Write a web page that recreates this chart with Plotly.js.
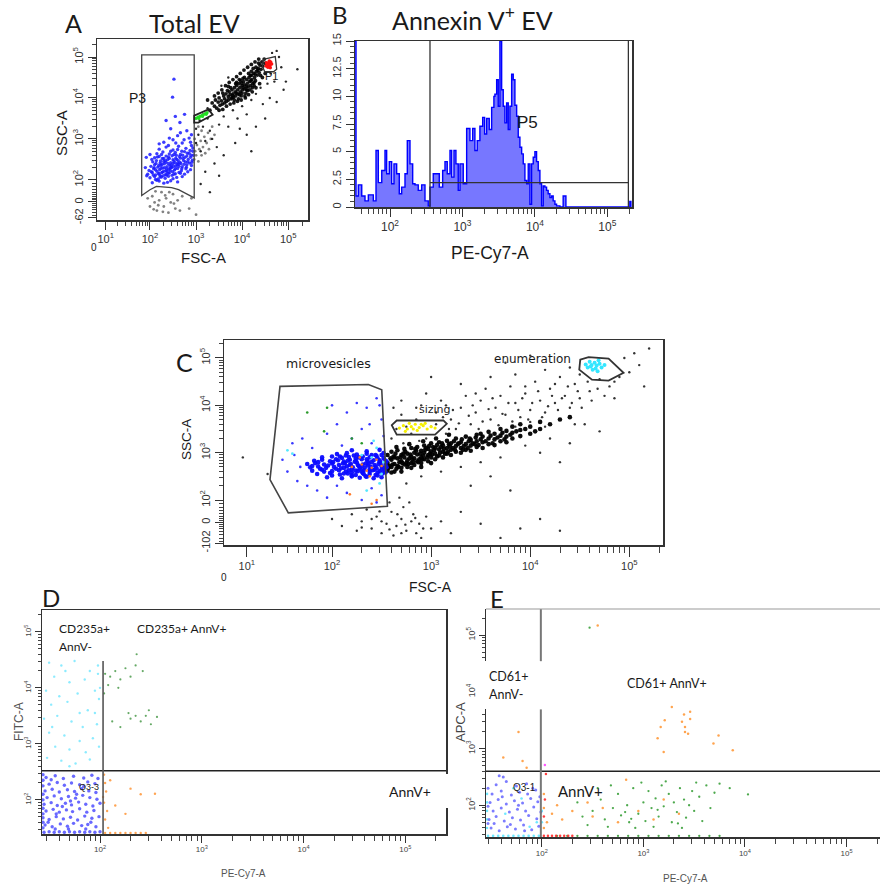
<!DOCTYPE html>
<html><head><meta charset="utf-8">
<script src="https://cdn.plot.ly/plotly-3.0.1.min.js"></script>
<style>html,body{margin:0;padding:0;background:#fff}#chart{width:880px;height:888px}</style>
</head><body><div id="chart"></div>
<script>
// ===== Panel A : Total EV (FSC-A vs SSC-A, display decades) =====
const aBlueP3 = [
[2.05,1.93],[2.2,1.97],[2.3,1.92],[2.45,1.98],[2.6,1.95],[2.15,1.99],[2.38,1.94],
[2.0,2.05],[2.1,2.08],[2.18,2.02],[2.25,2.07],[2.33,2.04],[2.4,2.09],[2.5,2.03],[2.58,2.06],[2.7,2.08],[2.12,2.01],[2.29,2.1],
[1.95,2.14],[2.05,2.18],[2.12,2.12],[2.2,2.16],[2.27,2.19],[2.34,2.13],[2.42,2.17],[2.48,2.11],[2.55,2.15],[2.63,2.18],[2.75,2.14],[2.22,2.11],[2.37,2.2],
[1.98,2.23],[2.08,2.27],[2.15,2.21],[2.21,2.25],[2.28,2.29],[2.35,2.22],[2.41,2.26],[2.47,2.3],[2.53,2.24],[2.6,2.28],[2.68,2.22],[2.78,2.27],[2.88,2.25],[2.3,2.21],[2.44,2.29],
[2.02,2.33],[2.1,2.37],[2.17,2.31],[2.24,2.35],[2.31,2.39],[2.37,2.32],[2.43,2.36],[2.5,2.4],[2.56,2.34],[2.62,2.38],[2.7,2.32],[2.8,2.37],[2.9,2.35],[2.26,2.38],[2.46,2.31],
[2.06,2.44],[2.14,2.47],[2.22,2.41],[2.3,2.45],[2.38,2.49],[2.45,2.42],[2.52,2.46],[2.58,2.5],[2.65,2.43],[2.73,2.47],[2.82,2.44],[2.92,2.48],[2.34,2.43],[2.6,2.41],
[2.1,2.54],[2.2,2.57],[2.3,2.52],[2.4,2.56],[2.48,2.59],[2.56,2.53],[2.64,2.57],[2.72,2.52],[2.8,2.58],[2.88,2.55],[2.94,2.6],
[2.15,2.64],[2.28,2.68],[2.42,2.63],[2.55,2.67],[2.66,2.62],[2.75,2.69],[2.85,2.65],[2.93,2.7],
[2.2,2.75],[2.35,2.8],[2.5,2.73],[2.62,2.82],[2.78,2.77],[2.9,2.84],
[2.3,2.92],[2.5,2.98],[2.7,2.9],[2.85,3.02],[2.6,3.08],
[2.45,3.25],[2.65,3.4],[2.8,3.2],[2.55,3.55],[2.75,3.6],[2.35,3.45],
[2.52,4.46],[2.49,4.02],[1.92,2.55],[1.9,2.3],[2.0,2.62],[1.93,2.1],
[2.03,2.2],[2.09,2.3],[2.13,2.4],[2.18,2.15],[2.19,2.35],[2.23,2.46],[2.24,2.28],[2.26,2.18],[2.27,2.52],[2.32,2.3],
[2.33,2.47],[2.36,2.26],[2.39,2.4],[2.4,2.16],[2.42,2.52],[2.44,2.23],[2.46,2.36],[2.49,2.2],[2.5,2.49],[2.51,2.33],
[2.54,2.42],[2.55,2.27],[2.57,2.6],[2.59,2.37],[2.61,2.47],[2.63,2.33],[2.66,2.53],[2.67,2.4],[2.69,2.27],[2.71,2.6],
[2.74,2.38],[2.76,2.55],[2.77,2.44],[2.79,2.31],[2.81,2.65],[2.83,2.5],[2.86,2.41],[2.87,2.72],[2.89,2.6],[2.91,2.43],
[2.93,2.78],[2.16,2.56],[2.25,2.62],[2.35,2.58],[2.45,2.7],[2.52,2.62],[2.6,2.74],[2.69,2.7],[2.12,2.25],[2.07,2.12],
[2.22,2.07],[2.36,2.12],[2.52,2.14],[2.66,2.16],[2.82,2.2],[2.4,2.84],[2.56,2.9],[2.74,2.98],[2.88,2.92],[2.66,3.15],
[2.9,3.1],[2.42,3.02],[2.2,2.88],[2.04,2.5]
];
const aBlackMain = [
[3.35,3.88],[3.4,3.8],[3.42,3.95],[3.48,3.9],[3.5,4.0],[3.55,3.93],[3.57,3.85],[3.6,4.05],[3.62,3.98],[3.65,4.1],
[3.66,3.92],[3.7,4.03],[3.72,4.15],[3.74,4.08],[3.76,3.98],[3.78,4.2],[3.8,4.1],[3.81,4.02],[3.83,4.25],[3.85,4.15],
[3.86,4.05],[3.88,4.3],[3.9,4.2],[3.91,4.1],[3.93,4.35],[3.95,4.25],[3.96,4.15],[3.98,4.05],[4.0,4.3],[4.01,4.2],
[4.03,4.4],[4.05,4.32],[4.06,4.22],[4.08,4.12],[4.1,4.45],[4.11,4.35],[4.13,4.27],[4.15,4.5],[4.16,4.4],[4.18,4.3],
[4.2,4.55],[4.21,4.45],[4.23,4.35],[4.25,4.6],[4.27,4.5],[4.29,4.42],[4.31,4.65],[4.33,4.56],[4.35,4.72],[4.37,4.62],
[4.39,4.8],[4.41,4.7],[4.43,4.88],[4.45,4.78],[4.3,4.75],[4.2,4.65],[4.05,4.5],[3.97,4.42],[3.88,4.38],[4.12,4.18],
[4.22,4.25],[3.92,3.98],[3.75,4.25],[3.68,4.18],[3.58,4.12],[3.52,3.82],[3.45,3.75],[4.0,4.12],[4.07,4.0],[4.17,4.2],
[4.26,4.38],[3.83,3.95],[3.94,4.45],[4.14,4.6],[4.24,4.72],[4.36,4.85],[4.48,4.95],[4.5,4.85],[3.99,4.36],[4.09,4.28],
[3.87,4.12],[4.19,4.42],[3.79,4.06],[4.28,4.58],[3.7,3.95],[4.02,4.25],
[3.5,3.7],[3.58,3.72],[3.66,3.8],[3.74,3.85],[3.82,3.88],[3.9,3.92],[3.98,3.95],[4.06,4.05],[4.14,4.08],[4.22,4.15],
[4.3,4.25],[4.38,4.35],[4.44,4.5],[4.5,4.6],[3.4,4.05],[3.48,4.12],[3.56,4.2],[3.64,4.3],[3.72,4.38],[3.8,4.45],
[3.88,4.52],[3.96,4.6],[4.04,4.68],[4.12,4.75],[4.2,4.82],[4.28,4.88],[4.36,4.95],[3.62,3.88],[3.78,4.0],[3.94,4.08],
[4.1,4.2],[4.26,4.3],[4.4,4.55],[3.7,4.28],[3.86,4.35],[4.02,4.48],[4.18,4.55],[4.34,4.68],[3.3,3.7],[3.25,3.95]
];
const aBlackSparse = [
[3.0,2.9],[3.05,3.1],[3.1,2.7],[3.15,3.3],[3.2,2.95],[3.0,3.25],[3.08,3.45],[3.25,3.5],[3.3,3.2],[3.35,3.0],
[3.45,2.8],[3.5,3.35],[3.6,3.55],[3.7,3.3],[3.8,3.7],[3.9,3.5],[4.0,3.8],[4.1,3.6],[4.2,3.95],[4.3,4.1],
[4.4,4.25],[4.55,4.35],[4.6,4.0],[4.7,4.4],[4.75,3.9],[4.85,4.75],[4.9,4.2],[4.95,4.4],[5.2,4.7],[4.5,3.5],
[4.3,3.3],[4.1,3.1],[3.85,2.9],[3.6,2.6],[3.4,2.4],[3.2,2.2],[3.1,1.9],[3.3,1.7],[3.5,2.1],[4.2,2.7],
[4.45,3.85],[3.95,3.25],[4.65,5.1],[4.75,5.15],[3.7,4.5],[3.55,4.3],[3.25,3.75],[3.15,3.6],[4.8,5.0],[4.62,4.6]
];
const aGrayNear = [
[2.96,2.5],[2.98,2.7],[3.0,2.6],[3.02,2.85],[3.05,2.45],[3.07,2.75],[3.1,2.95],[3.12,2.6],[3.15,2.8],[3.18,3.05],
[3.2,2.65],[3.23,2.9],[3.26,3.15],[3.28,2.75],[3.32,3.0],[3.35,3.3],[3.4,3.1],[3.12,3.2],[2.97,3.0],[3.05,3.3],
[1.95,1.55],[2.0,1.35],[2.05,1.6],[2.1,1.45],[2.15,1.25],[2.2,1.5],[2.25,1.7],[2.3,1.35],[2.35,1.55],[2.4,1.2],
[2.45,1.45],[2.5,1.65],[2.55,1.3],[2.6,1.5],[2.65,1.25],[2.12,1.72],[2.28,1.22],[2.42,1.7],[2.18,1.38],[2.52,1.42],
[2.7,1.6],[2.85,1.3],[2.9,1.55],[3.0,1.15],[2.08,1.28],[2.33,1.62]
];
const aGreen = [[3.0,3.5],[3.04,3.53],[3.08,3.55],[3.12,3.57],[3.16,3.59],[3.2,3.62],[3.24,3.64],[3.06,3.5],[3.14,3.55],[3.22,3.6]];
const aRed = [[4.52,4.78],[4.55,4.82],[4.58,4.85],[4.6,4.8],[4.62,4.88],[4.56,4.75],[4.64,4.83],[4.59,4.9],[4.53,4.86],[4.61,4.74]];
const aGateP3 = [[1.82,5.05],[2.96,5.05],[2.96,1.56],[2.62,1.76],[2.47,1.81],[2.14,1.84],[2.0,1.76],[1.82,1.62]];
const aGateGreen = [[2.96,3.40],[2.96,3.57],[3.27,3.72],[3.36,3.59],[3.05,3.40]];
const aGateP1 = [[4.46,4.94],[4.72,5.01],[4.75,4.70],[4.68,4.64],[4.49,4.64],[4.44,4.78]];
const aXTicks = [1.04,2,3,4,5];
const aXTickText = ['10<sup>1</sup>','10<sup>2</sup>','10<sup>3</sup>','10<sup>4</sup>','10<sup>5</sup>'];
const aYTicks = [1.07,1.46,2,3,4,5];
const aYTickText = ['-62','0','10<sup>2</sup>','10<sup>3</sup>','10<sup>4</sup>','10<sup>5</sup>'];

// ===== Panel B : Annexin V+ EV histogram (PE-Cy7-A decades vs count) =====
const bEdges = [1.517,1.531,1.563,1.610,1.655,1.701,1.770,1.807,1.839,1.886,1.931,1.954,1.990,2.023,2.055,2.092,2.128,2.161,2.207,2.239,2.276,2.313,2.345,2.390,2.437,2.483,2.528,2.552,2.597,2.680,2.727,2.759,2.790,2.828,2.851,2.883,2.910,2.942,2.966,3.011,3.058,3.103,3.141,3.172,3.204,3.241,3.279,3.306,3.334,3.370,3.403,3.434,3.448,3.472,3.494,3.517,3.541,3.563,3.586,3.610,3.632,3.655,3.679,3.701,3.724,3.748,3.770,3.793,3.817,3.839,3.862,3.886,3.908,3.931,3.954,3.977,4.000,4.023,4.046,4.069,4.092,4.115,4.138,4.161,4.183,4.207,4.230,4.252,4.276,4.299,4.345,4.390,4.428,5.310,5.325];
const bCounts = [15,1.0,2.0,1.0,0.55,1.1,0.55,5.1,2.2,3.3,5.1,3.0,4.1,2.1,3.9,3.0,1.2,1.8,3.0,6.0,3.9,2.1,2.0,1.5,2.0,0.55,0.1,1.8,3.0,1.8,3.3,4.1,3.0,5.1,2.7,5.1,3.9,1.5,3.9,2.1,7.1,6.0,7.1,5.1,6.0,7.3,8.1,6.6,8.0,7.0,9.0,10.0,10.2,11.5,9.1,15.0,10.6,9.1,7.6,9.4,7.0,9.1,12.0,11.5,9.2,8.2,6.3,5.4,4.8,3.9,2.4,2.1,3.9,0.25,3.9,4.5,5.0,4.1,3.3,2.1,0.1,1.9,1.8,1.5,1.2,0.85,1.0,0.55,0.25,0.1,0,1.0,0,0.5,0];
const bGateLeft = 2.552, bGateRight = 5.29, bGateLevel = 2.2;
const bXTicks = [2,3,4,5];
const bYTicks = [0,2.5,5,7.5,10,12.5,15];

// ===== Panel C : FSC-A vs SSC-A gates =====
const cBlueCore = [
[1.95,2.48],[2.1,2.46],[2.2,2.5],[2.28,2.47],[2.35,2.49],[2.42,2.46],[2.5,2.48],
[1.85,2.55],[1.98,2.57],[2.08,2.54],[2.16,2.56],[2.24,2.53],[2.31,2.57],[2.38,2.55],[2.44,2.53],[2.51,2.56],[2.2,2.58],
[1.8,2.62],[1.9,2.64],[2.0,2.61],[2.07,2.63],[2.14,2.6],[2.2,2.64],[2.26,2.61],[2.32,2.63],[2.38,2.6],[2.43,2.64],[2.48,2.61],[2.53,2.63],
[1.78,2.69],[1.86,2.71],[1.94,2.68],[2.02,2.7],[2.09,2.67],[2.15,2.71],[2.21,2.69],[2.27,2.72],[2.33,2.68],[2.39,2.7],[2.45,2.67],[2.5,2.71],[2.55,2.69],
[1.75,2.76],[1.83,2.78],[1.92,2.75],[2.0,2.77],[2.07,2.74],[2.13,2.78],[2.19,2.76],[2.25,2.79],[2.31,2.75],[2.37,2.77],[2.43,2.74],[2.49,2.78],[2.54,2.76],
[1.82,2.83],[1.9,2.85],[1.98,2.82],[2.06,2.84],[2.12,2.81],[2.18,2.85],[2.24,2.83],[2.3,2.86],[2.36,2.82],[2.42,2.84],[2.48,2.81],[2.53,2.85],
[1.9,2.9],[2.0,2.92],[2.1,2.89],[2.17,2.91],[2.24,2.88],[2.31,2.92],[2.38,2.9],[2.45,2.93],[2.52,2.89],
[2.05,2.97],[2.15,2.99],[2.25,2.96],[2.35,2.98],[2.44,2.95],[2.52,2.99],
[2.2,3.05],[2.35,3.03],[2.48,3.06],
[2.28,2.66],[2.36,2.73],[2.46,2.58],[2.4,2.8],[2.18,2.74],[2.5,2.64],[2.32,2.55],[2.46,2.88],[2.12,2.68],[2.24,2.62],
[1.88,2.66],[1.96,2.73],[2.04,2.66],[2.11,2.77],[2.17,2.63],[2.23,2.81],[2.29,2.69],[2.34,2.77],[2.41,2.63],[2.47,2.76],
[2.52,2.68],[2.04,2.86],[2.14,2.94],[2.27,2.9],[2.4,2.95],[2.5,2.95],[2.2,2.52],[2.34,2.5],[2.46,2.52],[2.54,2.58],
[1.92,2.6],[1.8,2.72],[2.01,2.8],[2.16,2.83],[2.35,2.86],[2.55,2.82],[2.44,2.7],[2.3,2.6],[2.26,2.74],[2.38,2.65],
[2.48,2.84],[2.12,2.56],[2.0,2.52],[1.86,2.8],[2.08,2.92],[2.22,2.94]
];
const cBlueSparse = [
[1.5,2.85],[1.55,2.6],[1.62,2.95],[1.68,2.7],[1.7,3.3],[1.65,2.4],[1.75,2.3],[1.85,2.2],[1.95,2.05],[2.05,2.3],
[2.15,2.15],[2.3,2.0],[2.4,2.25],[2.5,2.1],[2.45,1.95],[2.2,3.3],[2.3,3.5],[2.4,3.2],[2.05,3.6],[2.15,3.85],
[2.35,3.95],[2.5,3.7],[2.45,4.15],[2.25,4.05],[1.95,3.4],[1.8,3.1],[2.52,3.35],[2.0,4.0],[2.38,3.6],[2.1,3.15],
[2.48,4.0],[1.6,3.2]
];
const cCyan = [[2.4,2.9],[2.45,3.1],[2.5,2.55],[2.3,2.95],[2.48,2.35],[2.35,2.2],[1.55,3.05],[1.6,2.98],[2.52,2.8],[2.42,3.25]];
const cOrange = [[2.3,2.75],[2.4,2.68],[2.45,2.85],[2.35,2.62],[2.5,2.72],[2.2,2.7],[2.38,2.5],[2.45,2.0],[2.4,1.92],[2.28,2.9],[2.18,2.12]];
const cGreen = [[1.75,3.85],[1.95,3.95],[2.2,3.3],[1.92,3.45],[2.3,3.2]];
const cBlackBand = [
[2.56,2.62],[2.56,2.78],[2.56,2.95],[2.6,2.7],[2.6,2.85],[2.6,3.02],[2.63,2.6],[2.63,2.76],[2.63,2.9],
[2.66,2.72],[2.66,2.88],[2.66,3.05],[2.7,2.68],[2.7,2.82],[2.7,2.95],[2.73,2.75],[2.73,2.9],[2.73,3.08],
[2.76,2.7],[2.76,2.84],[2.76,2.98],[2.8,2.78],[2.8,2.92],[2.8,3.1],[2.83,2.74],[2.83,2.88],[2.83,3.0],
[2.86,2.82],[2.86,2.96],[2.86,3.12],[2.9,2.78],[2.9,2.9],[2.9,3.04],[2.93,2.86],[2.93,3.0],[2.93,3.15],
[2.97,2.82],[2.97,2.95],[2.97,3.08],[3.0,2.9],[3.0,3.03],[3.0,3.2],[3.04,2.86],[3.04,2.98],[3.04,3.1],
[3.08,2.94],[3.08,3.07],[3.08,3.22],[3.12,2.9],[3.12,3.02],[3.12,3.15],[3.16,2.98],[3.16,3.1],[3.16,3.25],
[3.2,2.95],[3.2,3.06],[3.2,3.2],[3.25,3.02],[3.25,3.14],[3.25,3.3],[3.3,3.0],[3.3,3.1],[3.3,3.22],
[3.35,3.06],[3.35,3.18],[3.35,3.34],[3.4,3.04],[3.4,3.15],[3.4,3.27],[3.46,3.12],[3.46,3.24],[3.46,3.38],
[3.52,3.1],[3.52,3.22],[3.52,3.34],[3.58,3.18],[3.58,3.3],[3.58,3.44],[3.64,3.16],[3.64,3.28],[3.64,3.4],
[3.7,3.24],[3.7,3.36],[3.7,3.5],[3.76,3.22],[3.76,3.34],[3.76,3.46],[3.82,3.3],[3.82,3.42],[3.82,3.55],
[3.9,3.35],[3.9,3.48],[3.9,3.6],[4.0,3.4],[4.0,3.55],[4.1,3.5],[4.1,3.65],
[2.58,2.72],[2.62,2.92],[2.65,2.66],[2.68,2.8],[2.72,2.98],[2.75,2.78],[2.78,2.88],[2.82,2.8],[2.85,3.04],[2.88,2.86],
[2.92,2.94],[2.95,3.1],[2.99,2.98],[3.02,3.12],[3.06,2.92],[3.1,3.12],[3.14,2.98],[3.18,3.18],[3.22,3.1],[3.28,3.2],
[3.32,3.06],[3.38,3.24],[3.44,3.18],[3.5,3.28],
[2.57,2.68],[2.59,2.88],[2.61,2.75],[2.64,2.98],[2.67,2.7],[2.69,2.9],[2.71,2.78],[2.74,3.02],[2.77,2.76],[2.79,2.96],
[2.81,2.86],[2.84,3.08],[2.87,2.8],[2.89,2.98],[2.91,2.86],[2.94,3.06],[2.96,2.9],[2.98,3.14],[3.01,2.96],[3.03,3.05],
[3.06,3.16],[3.09,3.0],[3.11,3.2],[3.13,3.08],[3.17,3.02],[3.19,3.14],[3.23,3.24],[3.24,3.06],[3.27,3.18],[3.31,3.28],
[3.33,3.14],[3.37,3.1],[3.39,3.3],[3.42,3.2],[3.45,3.32],[3.48,3.16],[3.5,3.4],[3.55,3.24],[3.6,3.36],[3.62,3.2],
[3.67,3.32],[3.72,3.42],[3.74,3.28],[3.8,3.38],[3.86,3.45],[3.95,3.5],[4.05,3.45],[4.2,3.6],[4.3,3.7],[4.4,3.75],
[2.6,2.58],[2.7,2.6],[2.8,2.68],[2.9,2.7],[3.0,2.78],[2.65,3.12],[2.78,3.18],[2.92,3.24],[3.05,3.3],[3.18,3.38]
];
const cBlackSparse = [
[2.6,3.3],[2.65,3.5],[2.7,3.8],[2.72,3.2],[2.8,3.4],[2.85,3.7],[2.9,4.0],[2.95,3.3],[3.0,3.55],[3.05,3.85],
[3.1,4.1],[3.15,3.4],[3.2,3.7],[3.25,3.5],[3.3,3.95],[3.35,4.2],[3.4,3.6],[3.45,3.85],[3.5,4.1],[3.55,4.35],
[3.6,3.7],[3.65,3.95],[3.7,4.2],[3.75,3.8],[3.8,4.4],[3.85,4.05],[3.9,3.75],[3.95,4.25],[4.0,3.9],[4.05,4.5],
[4.1,4.1],[4.15,3.85],[4.2,4.35],[4.25,4.05],[4.3,4.6],[4.35,4.2],[4.4,3.95],[4.45,4.45],[4.5,4.15],[4.6,4.3],
[4.7,4.55],[4.8,4.4],[4.9,4.6],[5.0,4.7],[5.1,4.85],[5.15,4.4],[4.95,5.0],[5.05,5.1],[4.85,4.15],[4.55,3.6],
[4.2,3.3],[3.95,3.15],[3.7,2.9],[3.5,2.8],[3.3,2.7],[3.1,2.6],[2.9,2.5],[2.75,2.35],[3.6,2.5],[4.1,3.0],
[4.4,3.2],[4.7,3.45],[4.3,2.8],[3.4,2.3],[3.8,2.2],[4.0,5.05],[3.6,4.6],[3.3,4.45],[2.95,4.25],[2.7,4.1],
[4.65,4.9],[4.4,4.8],[3.75,4.9],[5.2,5.2],[2.62,3.95],[3.0,4.6],[3.85,4.65],[4.15,4.75],[1.1,2.9],[1.35,2.55],
[2.0,1.6],[2.1,1.45],[2.2,1.7],[2.25,1.35],[2.3,1.55],[2.35,1.8],[2.4,1.4],[2.45,1.65],[2.5,1.3],[2.55,1.5],
[2.6,1.75],[2.62,1.25],[2.65,1.45],[2.7,1.6],[2.72,1.85],[2.75,1.35],[2.8,1.55],[2.82,1.7],[2.85,1.3],[2.88,1.5],
[2.9,1.2],[2.95,1.65],[3.0,1.4],[3.1,1.55],[3.2,1.3],[2.58,1.95],[2.68,2.05],[2.78,1.95],[3.3,1.75],[3.5,1.5],
[3.9,1.4],[4.1,1.6],[4.3,1.35],[3.7,1.2],
[3.05,3.6],[3.12,3.75],[3.22,3.9],[3.28,3.62],[3.38,3.78],[3.42,4.0],[3.52,3.66],[3.58,3.92],[3.62,4.15],[3.68,3.58],
[3.72,3.82],[3.78,4.05],[3.82,3.66],[3.88,3.9],[3.92,4.15],[3.98,3.7],[4.02,4.05],[4.08,4.3],[4.12,3.75],[4.18,3.98],
[4.22,4.2],[4.28,3.9],[4.32,4.15],[4.38,4.4],[4.42,4.05],[4.48,4.3],[4.52,3.95],[4.58,4.5],[4.62,4.1],[4.68,4.35],
[4.75,4.2],[4.85,4.5],[4.5,4.65],[4.25,4.45],[3.95,4.4],[3.45,4.25],[3.15,4.0],[2.85,3.95],[2.75,3.55],[2.88,3.25],
[3.18,3.5],[3.48,3.5],[3.85,3.55],[4.15,3.55],[4.45,3.6],[4.0,3.65],
[2.3,1.42],[2.4,1.6],[2.5,1.55],[2.58,1.38],[2.66,1.7],[2.74,1.48],[2.84,1.62],[2.92,1.4],[2.48,1.76],[2.7,1.3]
];
const cYellow = [[2.68,3.52],[2.72,3.57],[2.76,3.5],[2.8,3.55],[2.84,3.6],[2.88,3.53],[2.92,3.57],[2.96,3.5],[3.0,3.55],[2.78,3.62],[2.86,3.47],[2.94,3.62],[2.74,3.45],[3.04,3.52],[2.82,3.5],[2.9,3.6]];
const cCyanEnum = [[4.58,4.8],[4.62,4.85],[4.66,4.78],[4.7,4.88],[4.6,4.92],[4.65,4.9],[4.72,4.8],[4.68,4.72],[4.56,4.86],[4.75,4.85],[4.63,4.75],[4.69,4.95],[4.61,4.82],[4.67,4.84]];
const cGateMicro = [[1.475,4.40],[2.367,4.44],[2.502,4.33],[2.559,1.87],[1.559,1.73],[1.374,2.43]];
const cGateSizing = [[2.603,3.58],[2.653,3.68],[3.124,3.68],[3.158,3.61],[3.040,3.38],[2.653,3.38]];
const cGateEnum = [[4.505,4.966],[4.589,5.017],[4.791,4.987],[4.942,4.685],[4.791,4.522],[4.623,4.543],[4.495,4.755]];
const cXTicks = [1.14,2,3,4,5];
const cYTicks = [1.09,1.53,2,3,4,5];
const cYTickText = ['-102','0','10<sup>2</sup>','10<sup>3</sup>','10<sup>4</sup>','10<sup>5</sup>'];

// ===== Panel D : PE-Cy7-A vs FITC-A =====
const dBlue = [
[1.45,1.42],[1.5,1.43],[1.55,1.42],[1.6,1.43],[1.65,1.42],[1.7,1.43],[1.75,1.42],[1.8,1.43],[1.85,1.42],[1.9,1.43],[1.95,1.42],[2.0,1.43],
[1.46,1.55],[1.53,1.52],[1.61,1.57],[1.68,1.53],[1.74,1.58],[1.82,1.54],[1.88,1.56],[1.96,1.52],
[1.44,1.68],[1.5,1.65],[1.57,1.7],[1.64,1.66],[1.71,1.69],[1.78,1.64],[1.85,1.71],[1.92,1.67],[1.99,1.7],
[1.47,1.8],[1.54,1.83],[1.6,1.78],[1.67,1.82],[1.73,1.79],[1.8,1.84],[1.87,1.78],[1.94,1.81],
[1.45,1.92],[1.52,1.95],[1.58,1.9],[1.66,1.94],[1.72,1.91],[1.79,1.96],[1.86,1.92],[1.93,1.89],[2.0,1.94],
[1.48,2.04],[1.55,2.07],[1.62,2.02],[1.69,2.06],[1.76,2.03],[1.83,2.08],[1.9,2.04],[1.97,2.01],
[1.46,2.16],[1.53,2.19],[1.6,2.14],[1.68,2.18],[1.75,2.15],[1.82,2.2],[1.89,2.16],[1.96,2.13],
[1.5,2.28],[1.58,2.31],[1.65,2.26],[1.72,2.3],[1.8,2.27],[1.88,2.32],[1.95,2.29],
[1.47,2.4],[1.56,2.43],[1.64,2.38],[1.74,2.42],[1.84,2.39],[1.92,2.44],
[1.44,1.5],[1.44,1.6],[1.44,1.75],[1.44,1.85],[1.44,2.0],[1.44,2.1],[1.44,2.25],[1.44,2.35],[1.44,2.45],
[1.49,1.6],[1.57,1.75],[1.63,1.88],[1.71,1.98],[1.77,2.1],[1.84,2.24],[1.91,1.6],[1.52,2.36],[1.98,2.38],[1.69,1.48],[1.86,1.48],[1.56,1.48]
];
const dCyan = [
[1.5,4.45],[1.62,4.4],[1.75,4.48],[1.9,4.3],[1.98,4.25],[1.55,4.2],[1.7,4.1],[1.85,4.15],[1.47,3.95],[1.6,3.85],
[1.78,3.9],[1.95,3.95],[1.52,3.7],[1.68,3.75],[1.88,3.6],[1.99,3.8],[1.45,3.45],[1.58,3.5],[1.72,3.4],[1.83,3.3],
[1.97,3.35],[1.5,3.2],[1.65,3.15],[1.8,3.05],[1.93,3.1],[1.56,2.95],[1.7,2.9],[1.86,2.85],[1.99,2.95],[1.48,2.75],
[1.62,2.7],[1.76,2.65],[1.9,2.72],[1.95,3.55],[2.0,4.0],[1.66,4.3],[1.8,3.55],[1.53,3.3],[1.98,4.4],[1.7,2.6]
];
const dGreen = [
[2.05,4.25],[2.1,4.2],[2.15,4.3],[2.2,4.15],[2.25,4.35],[2.3,4.2],[2.35,4.4],[2.42,4.3],[2.36,4.6],[2.08,4.05],
[2.18,4.0],[2.3,3.45],[2.35,3.5],[2.4,3.4],[2.45,3.5],[2.5,3.35],[2.56,3.48],[2.2,3.3],[2.28,3.55],[2.12,3.4],[2.04,3.9],[2.48,3.6]
];
const dOrange = [
[2.04,2.45],[2.05,2.3],[2.06,2.15],[2.04,1.95],[2.07,1.8],[2.05,1.65],[2.08,1.5],[2.1,2.35],[2.03,2.05],
[2.05,1.41],[2.1,1.41],[2.15,1.41],[2.2,1.41],[2.25,1.41],[2.3,1.41],[2.35,1.41],[2.4,1.41],[2.45,1.41],
[2.3,2.2],[2.54,2.11],[2.15,1.9],[2.25,1.75],[2.4,2.1]
];
const dGateY = 2.52, dGateX = 2.03, dGateXTop = 4.48;
const dXTicks = [2,3,4,5], dYTicks = [2,3,4,5];

// ===== Panel E : PE-Cy7-A vs APC-A =====
const eBlue = [
[1.5,1.6],[1.58,1.55],[1.66,1.62],[1.74,1.58],[1.82,1.65],[1.9,1.57],[1.97,1.63],
[1.48,1.75],[1.55,1.8],[1.63,1.72],[1.71,1.78],[1.79,1.74],[1.87,1.82],[1.95,1.76],
[1.52,1.9],[1.6,1.95],[1.68,1.88],[1.76,1.93],[1.84,1.9],[1.92,1.97],[1.99,1.88],
[1.49,2.05],[1.57,2.1],[1.65,2.02],[1.73,2.08],[1.81,2.04],[1.89,2.12],[1.96,2.06],
[1.51,2.2],[1.6,2.25],[1.7,2.18],[1.78,2.23],[1.86,2.2],[1.94,2.27],
[1.55,2.36],[1.65,2.42],[1.75,2.34],[1.85,2.38],[1.62,2.5],[1.58,2.52],
[1.47,1.68],[1.47,1.98],[1.47,2.3],[1.53,1.68],[1.69,1.66],[1.83,1.55],[1.61,2.15],[1.77,2.0],[1.91,2.3],[1.98,2.15]
];
const eCyan = [
[1.47,1.46],[1.52,1.46],[1.57,1.46],[1.62,1.46],[1.67,1.46],[1.72,1.46],[1.77,1.46],[1.82,1.46],[1.87,1.46],[1.92,1.46],[1.97,1.46],
[1.46,1.6],[1.46,1.75],[1.46,1.9],[1.46,2.05],[1.46,2.2],[1.64,1.85],[1.8,2.12],[1.95,1.7],[1.72,2.3],[1.88,1.62],[2.0,1.7],[2.0,1.9]
];
const eGreen = [
[2.5,1.9],[2.58,2.1],[2.62,1.75],[2.7,1.95],[2.75,2.2],[2.78,1.82],[2.82,1.88],[2.84,2.0],[2.86,1.7],[2.9,2.3],
[2.95,1.85],[3.0,2.05],[3.02,1.72],[3.05,2.25],[3.08,1.95],[3.12,2.12],[3.15,1.8],[3.18,2.35],[3.2,1.98],[3.25,2.2],
[3.28,1.7],[3.3,2.05],[3.33,1.88],[3.36,2.3],[3.4,2.1],[3.42,1.78],[3.45,2.0],[3.48,2.25],[3.5,1.9],[3.55,2.15],
[3.58,1.72],[3.62,2.35],[3.66,1.95],[3.7,2.22],[3.75,2.38],[3.85,2.3],[4.03,2.19],[2.4,1.8],[2.35,2.05],[2.45,1.65],
[2.65,1.62],[2.92,1.6],[3.1,1.62],[3.38,1.6],[2.55,2.3],[2.68,2.35],[3.22,2.42],[3.52,2.4],[2.98,2.4],[2.88,1.76],
[3.14,1.92],[3.34,1.68],[2.47,5.13],
[2.15,1.46],[2.25,1.46],[2.35,1.46],[2.45,1.46],[2.55,1.46],[2.65,1.46],[2.75,1.46],[2.85,1.46],[2.95,1.46],
[3.05,1.46],[3.15,1.46],[3.25,1.46],[3.35,1.46],[3.45,1.46],[3.55,1.46],[3.65,1.46],[3.75,1.46]
];
const eOrange = [
[3.28,3.73],[3.21,3.5],[3.17,3.38],[3.14,3.18],[3.2,2.94],[3.38,3.47],[3.41,3.38],[3.46,3.65],[3.46,3.52],[3.44,3.26],
[3.41,3.29],[3.74,3.23],[3.69,3.09],[3.88,2.97],[3.4,3.6],[2.55,5.17],[1.77,3.29],[1.62,2.84],[1.81,2.78],[1.85,2.66],
[2.05,1.7],[2.1,1.85],[2.2,1.75],[2.3,1.9],[2.5,1.8],[2.6,1.95],[2.75,1.7],[2.95,1.9],[3.1,1.75],[3.2,2.1],
[3.35,1.85],[2.83,2.45],[2.45,2.05],[2.15,2.0],[2.02,1.95],[2.02,2.2],[2.02,1.6]
];
const eRed = [[2.02,1.46],[2.06,1.46],[2.1,1.46],[2.14,1.46],[2.18,1.46],[2.22,1.46],[2.26,1.46],[2.3,1.46],[2.02,1.8],[2.04,2.55],[2.03,2.1]];
const eMagenta = [[2.03,2.71]];
const eGateY = 2.6, eGateX = 1.99, eGateGapLo = 3.69, eGateGapHi = 4.54;
const eXTicks = [2,3,4,5], eYTicks = [2,3,4,5];

// ===== helpers =====
const W = 880, H = 888;
const px = v => v / W, py = v => 1 - v / H;
const sup = d => '10<sup>' + d + '</sup>';
function logMinor(lo, hi) {
  const v = [];
  for (let d = Math.floor(lo); d <= Math.ceil(hi); d++)
    for (let k = 2; k <= 9; k++) { const t = d + Math.log10(k); if (t > lo && t < hi) v.push(t); }
  return v;
}
function pts(arr, xa, ya, color, size, opacity) {
  return {type: 'scatter', mode: 'markers', x: arr.map(p => p[0]), y: arr.map(p => p[1]),
    xaxis: xa, yaxis: ya, hoverinfo: 'skip', showlegend: false,
    marker: {color: color, size: size, opacity: opacity, line: {width: 0}}};
}
function path(arr) { return 'M ' + arr.map(p => p[0] + ' ' + p[1]).join(' L ') + ' Z'; }
function gate(arr, xr, yr, color, w) {
  return {type: 'path', xref: xr, yref: yr, path: path(arr), line: {color: color, width: w}, fillcolor: 'rgba(0,0,0,0)'};
}
function seg(x0, y0, x1, y1, xr, yr, color, w) {
  return {type: 'line', xref: xr, yref: yr, x0: x0, y0: y0, x1: x1, y1: y1, line: {color: color, width: w}};
}
const TF = 'Liberation Sans, Arial, sans-serif';
function axis(o) {
  return Object.assign({showgrid: false, zeroline: false, showline: true, linecolor: '#333', linewidth: 1.5,
    mirror: true, ticks: 'outside', ticklen: 8, tickwidth: 1, tickcolor: '#333', tickmode: 'array',
    fixedrange: true, tickfont: {family: TF, size: 11, color: '#333'}}, o);
}
function minor(vals, len) { return {ticks: 'outside', ticklen: len || 4, tickwidth: 1, tickcolor: '#444', tickmode: 'array', tickvals: vals}; }
function ann(text, x, y, size, fam, extra) {
  return Object.assign({text: text, xref: 'paper', yref: 'paper', x: px(x), y: py(y), xanchor: 'center', yanchor: 'middle',
    showarrow: false, font: {family: fam || TF, size: size, color: '#1a1a1a'}}, extra || {});
}
const biexA = [1.92,1.84,1.77,1.7,1.64,1.59,1.55,1.51,1.42,1.38,1.33,1.27,1.2,1.13];
const biexC = [1.92,1.85,1.78,1.71,1.66,1.61,1.57,1.49,1.45,1.4,1.34,1.27,1.19,1.12];
const cDec1 = [2,3,4,5,6,7,8,9].map(k => 1.14 + 0.86 * Math.log10(k));

// ===== traces =====
const data = [
  pts(aGrayNear, 'x', 'y', '#6b6b6b', 2.8, 0.85),
  pts(aBlackSparse, 'x', 'y', '#111', 2.4, 0.9),
  pts(aBlackMain, 'x', 'y', '#000', 3.8, 0.9),
  pts(aBlueP3, 'x', 'y', '#1a1aff', 3.4, 0.85),
  pts(aGreen, 'x', 'y', '#22dd22', 3.2, 1),
  pts(aRed, 'x', 'y', '#ff1010', 3.6, 1),
  {type: 'scatter', mode: 'lines', x: bEdges, y: bCounts, xaxis: 'x2', yaxis: 'y2', hoverinfo: 'skip', showlegend: false,
   line: {shape: 'hv', color: '#0000ff', width: 1.4}, fill: 'tozeroy', fillcolor: 'rgba(95,95,255,0.85)'},
  pts(cBlackSparse, 'x3', 'y3', '#111', 2.4, 0.85),
  pts(cBlackBand, 'x3', 'y3', '#000', 4.6, 0.95),
  pts(cBlueSparse, 'x3', 'y3', '#2222ff', 2.6, 0.9),
  pts(cBlueCore, 'x3', 'y3', '#0a0aff', 4.6, 0.95),
  pts(cCyan, 'x3', 'y3', '#55e8ff', 2.8, 1),
  pts(cOrange, 'x3', 'y3', '#ff7a2a', 2.6, 1),
  pts(cGreen, 'x3', 'y3', '#2a9a2a', 2.6, 1),
  pts(cYellow, 'x3', 'y3', '#f5ee00', 3.2, 1),
  pts(cCyanEnum, 'x3', 'y3', '#33e6ff', 4, 1),
  pts(dCyan, 'x4', 'y4', '#7fe9ff', 2.4, 0.9),
  pts(dBlue, 'x4', 'y4', '#2a2aff', 3.4, 0.7),
  pts(dGreen, 'x4', 'y4', '#4a9a4a', 2.2, 0.85),
  pts(dOrange, 'x4', 'y4', '#ff9a40', 2.4, 0.9),
  pts(eCyan, 'x5', 'y5', '#5fe6ff', 2.6, 0.9),
  pts(eBlue, 'x5', 'y5', '#3535ff', 3, 0.65),
  pts(eGreen, 'x5', 'y5', '#2e9a2e', 2.3, 0.85),
  pts(eOrange, 'x5', 'y5', '#ff9a3c', 2.5, 0.9),
  pts(eRed, 'x5', 'y5', '#ff2a2a', 2.5, 0.9),
  pts(eMagenta, 'x5', 'y5', '#ff44ff', 2.5, 0.9)
];

// ===== layout =====
const layout = {
  width: W, height: H, margin: {l: 0, r: 0, t: 0, b: 0}, paper_bgcolor: '#fff', plot_bgcolor: '#fff', showlegend: false,
  xaxis: axis({domain: [px(97), px(308)], range: [0.85, 5.43], anchor: 'y', tickvals: aXTicks, ticktext: aXTickText,
    minor: minor(logMinor(1.04, 5.43))}),
  yaxis: axis({domain: [py(220), py(39)], range: [1.02, 5.44], anchor: 'x', tickvals: aYTicks, ticktext: aYTickText,
    tickangle: -90, minor: minor(logMinor(2, 5.44).concat(biexA))}),
  xaxis2: axis({domain: [px(355), px(632)], range: [1.517, 5.34], anchor: 'y2', tickvals: bXTicks, ticktext: bXTicks.map(sup),
    tickfont: {family: TF, size: 12, color: '#333'}, minor: minor(logMinor(1.517, 5.34), 5)}),
  yaxis2: axis({domain: [py(207), py(41)], range: [0, 15], anchor: 'x2', tickvals: bYTicks, ticktext: bYTicks.map(String),
    tickangle: -90, tickfont: {family: TF, size: 11, color: '#333'}, minor: minor([0.5,1,1.5,2,3,3.5,4,4.5,5.5,6,6.5,7,8,8.5,9,9.5,10.5,11,11.5,12,13,13.5,14,14.5])}),
  xaxis3: axis({domain: [px(224), px(663)], range: [0.91, 5.34], anchor: 'y3', tickvals: cXTicks, ticktext: [1,2,3,4,5].map(sup),
    ticklen: 10, minor: minor(cDec1.concat(logMinor(2, 5.34)), 6)}),
  yaxis3: axis({domain: [py(545), py(340)], range: [1.05, 5.38], anchor: 'x3', tickvals: cYTicks, ticktext: cYTickText,
    tickangle: -90, minor: minor(logMinor(2, 5.38).concat(biexC))}),
  xaxis4: axis({domain: [px(42), px(446)], range: [1.43, 5.40], anchor: 'y4', tickvals: dXTicks, ticktext: dXTicks.map(sup),
    ticklen: 7, tickfont: {family: TF, size: 8, color: '#444'}, minor: minor(logMinor(1.43, 5.40), 5)}),
  yaxis4: axis({domain: [py(834), py(610)], range: [1.39, 5.39], anchor: 'x4', tickvals: dYTicks, ticktext: dYTicks.map(sup),
    tickangle: -90, ticklen: 6, tickfont: {family: TF, size: 8, color: '#444'}, minor: minor(logMinor(1.39, 5.39), 3)}),
  xaxis5: axis({domain: [px(486), 1], range: [1.45, 5.33], anchor: 'y5', tickvals: eXTicks, ticktext: eXTicks.map(sup), mirror: false,
    ticklen: 8, tickfont: {family: TF, size: 8, color: '#444'}, minor: minor(logMinor(1.45, 5.33), 5)}),
  yaxis5: axis({domain: [py(837), py(609)], range: [1.44, 5.46], anchor: 'x5', tickvals: eYTicks, ticktext: eYTicks.map(sup), mirror: false,
    tickangle: -90, ticklen: 6, tickfont: {family: TF, size: 9, color: '#444'}, minor: minor(logMinor(1.44, 5.46), 3)}),
  shapes: [
    gate(aGateP3, 'x', 'y', '#444', 1.3),
    gate(aGateGreen, 'x', 'y', '#222', 1.8),
    gate(aGateP1, 'x', 'y', '#333', 1.3),
    seg(bGateLeft, 0, bGateLeft, 15, 'x2', 'y2', '#333', 1.3),
    seg(bGateLeft, bGateLevel, bGateRight, bGateLevel, 'x2', 'y2', '#333', 1.3),
    seg(bGateRight, 0, bGateRight, 15, 'x2', 'y2', '#333', 1.3),
    gate(cGateMicro, 'x3', 'y3', '#444', 1.6),
    gate(cGateSizing, 'x3', 'y3', '#333', 1.8),
    gate(cGateEnum, 'x3', 'y3', '#333', 1.8),
    seg(1.43, dGateY, 5.40, dGateY, 'x4', 'y4', '#222', 1.6),
    seg(dGateX, 1.39, dGateX, dGateXTop, 'x4', 'y4', '#555', 1.6),
    seg(1.45, eGateY, 5.33, eGateY, 'x5', 'y5', '#222', 1.6),
    seg(eGateX, 1.44, eGateX, eGateGapLo, 'x5', 'y5', '#777', 2),
    seg(eGateX, eGateGapHi, eGateX, 5.46, 'x5', 'y5', '#777', 2),
    {type: 'line', xref: 'paper', yref: 'paper', x0: px(486), x1: 1, y0: py(609), y1: py(609), line: {color: '#9a9a9a', width: 1.2}},
    {type: 'rect', xref: 'paper', yref: 'paper', x0: px(479), x1: px(489), y0: py(709), y1: py(661), fillcolor: '#fff', line: {width: 0}, layer: 'above'},
    {type: 'rect', xref: 'paper', yref: 'paper', x0: px(443), x1: px(450), y0: py(808), y1: py(774), fillcolor: '#fff', line: {width: 0}, layer: 'above'}
  ],
  annotations: [
    ann('A', 73, 23, 25, 'Lato, sans-serif'),
    ann('Total EV', 194, 23, 25, 'Lato, sans-serif'),
    ann('P3', 137, 98, 14),
    ann('P1', 271, 76, 11),
    ann('FSC-A', 203, 257, 15),
    ann('SSC-A', 62, 133, 15, null, {textangle: -90}),
    ann('0', 94, 247, 10),
    ann('B', 340, 15, 24, 'Lato, sans-serif'),
    ann('Annexin V<sup>+</sup> EV', 472, 18, 25, 'Lato, sans-serif'),
    ann('P5', 527, 122, 17),
    ann('PE-Cy7-A', 490, 253, 17.5),
    ann('C', 184, 362, 25, 'Lato, sans-serif'),
    ann('microvesicles', 328, 363, 12.5, 'DejaVu Sans, sans-serif'),
    ann('sizing', 435, 409, 11, 'DejaVu Sans, sans-serif'),
    ann('enumeration', 532, 359, 12, 'DejaVu Sans, sans-serif'),
    ann('FSC-A', 430, 587, 14),
    ann('SSC-A', 186, 440, 13.5, null, {textangle: -90}),
    ann('0', 224, 577, 10),
    ann('D', 51, 597, 24, 'Lato, sans-serif'),
    ann('CD235a+', 57, 628, 12, 'Lato, sans-serif', {xanchor: 'left'}),
    ann('AnnV-', 57, 646, 12, 'Lato, sans-serif', {xanchor: 'left'}),
    ann('CD235a+ AnnV+', 135, 628, 12, 'Lato, sans-serif', {xanchor: 'left'}),
    ann('AnnV+', 410, 791, 14, 'Lato, sans-serif'),
    ann('Q3-3', 89, 787, 9),
    ann('FITC-A', 19, 722, 12, null, {textangle: -90, font: {family: TF, size: 12, color: '#555'}}),
    ann('PE-Cy7-A', 243, 873, 10, null, {font: {family: TF, size: 10, color: '#555'}}),
    ann('E', 497, 598, 24, 'Lato, sans-serif'),
    ann('CD61+', 487, 676, 12.5, 'Lato, sans-serif', {xanchor: 'left'}),
    ann('AnnV-', 487, 694, 12.5, 'Lato, sans-serif', {xanchor: 'left'}),
    ann('CD61+ AnnV+', 667, 683, 12.5, 'Lato, sans-serif'),
    ann('AnnV+', 580, 791, 15, 'Lato, sans-serif'),
    ann('Q3-1', 524, 787, 10),
    ann('APC-A', 460, 722, 13, null, {textangle: -90, font: {family: TF, size: 13, color: '#444'}}),
    ann('PE-Cy7-A', 685, 878, 10, null, {font: {family: TF, size: 10, color: '#555'}})
  ]
};

Plotly.newPlot('chart', data, layout, {staticPlot: true, displayModeBar: false});
</script></body></html>
